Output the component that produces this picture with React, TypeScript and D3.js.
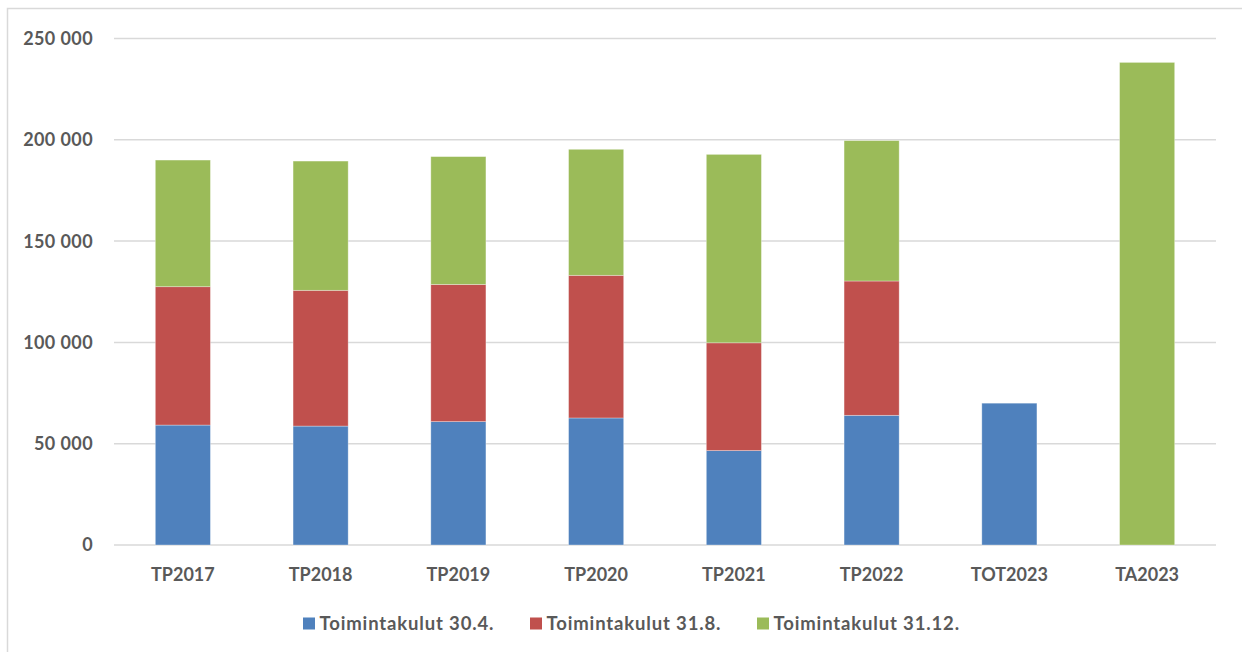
import React, { useEffect, useRef } from "react";
import * as d3 from "d3";

const categories = ["TP2017", "TP2018", "TP2019", "TP2020", "TP2021", "TP2022", "TOT2023", "TA2023"];
const kulut304 = [59200, 58700, 60900, 62700, 46600, 64000, 70000, 0];
const kulut318 = [68300, 67000, 67700, 70400, 53200, 66300, 0, 0];
const kulut3112 = [62500, 63800, 63100, 62200, 93000, 69300, 0, 238200];
const seriesNames = ["Toimintakulut 30.4.", "Toimintakulut 31.8.", "Toimintakulut 31.12."];
const seriesColors = ["#4f81bd", "#c0504d", "#9bbb59"];
const yTicks = [0, 50000, 100000, 150000, 200000, 250000];

const W = 1242;
const H = 652;
const FONT = "Lato, 'Open Sans', sans-serif";

const App: React.FC = () => {
  const svgRef = useRef<SVGSVGElement>(null);

  useEffect(() => {
    const svg = d3.select(svgRef.current);
    svg.selectAll("*").remove();

    const margin = { top: 38.5, right: 26, bottom: 107, left: 114 };

    // chart frame
    svg
      .append("rect")
      .attr("x", 7.5)
      .attr("y", 8.5)
      .attr("width", W + 20)
      .attr("height", H + 20)
      .attr("fill", "#fff")
      .attr("stroke", "#d9d9d9")
      .attr("stroke-width", 1.5);

    const x = d3
      .scaleBand()
      .domain(categories)
      .range([margin.left, W - margin.right])
      .paddingInner(0.6)
      .paddingOuter(0.3);

    const y = d3
      .scaleLinear()
      .domain([0, 250000])
      .range([H - margin.bottom, margin.top]);

    const fmt = (v: number) => d3.format(",")(v).replace(/,/g, " ");

    // gridlines
    svg
      .append("g")
      .selectAll("line")
      .data(yTicks)
      .join("line")
      .attr("x1", margin.left)
      .attr("x2", W - margin.right)
      .attr("y1", (d) => y(d))
      .attr("y2", (d) => y(d))
      .attr("stroke", "#d9d9d9")
      .attr("stroke-width", 1.5);

    // y labels
    svg
      .append("g")
      .selectAll("text")
      .data(yTicks)
      .join("text")
      .attr("x", 93)
      .attr("y", (d) => y(d))
      .attr("dy", "0.36em")
      .attr("text-anchor", "end")
      .attr("font-family", FONT)
      .attr("font-weight", "bold")
      .attr("font-size", 18)
      .attr("letter-spacing", 0.4)
      .attr("fill", "#595959")
      .text((d) => fmt(d));

    const rows = categories.map((c, i) => ({
      cat: c,
      a: kulut304[i],
      b: kulut318[i],
      c3: kulut3112[i],
    }));
    const stack = d3.stack<any>().keys(["a", "b", "c3"]);
    const stacked = stack(rows);

    svg
      .append("g")
      .selectAll("g")
      .data(stacked)
      .join("g")
      .attr("fill", (_, i) => seriesColors[i])
      .selectAll("rect")
      .data((s) => s.filter((d) => d[1] - d[0] > 0))
      .join("rect")
      .attr("x", (d: any) => x(d.data.cat)!)
      .attr("width", x.bandwidth())
      .attr("y", (d) => y(d[1]))
      .attr("height", (d) => y(d[0]) - y(d[1]))
      .attr("stroke", "#ffffff")
      .attr("stroke-opacity", 0.4)
      .attr("stroke-width", 0.8);

    // x labels
    svg
      .append("g")
      .selectAll("text")
      .data(categories)
      .join("text")
      .attr("x", (d) => x(d)! + x.bandwidth() / 2)
      .attr("y", 581)
      .attr("text-anchor", "middle")
      .attr("font-family", FONT)
      .attr("font-weight", "bold")
      .attr("font-size", 18)
      .attr("fill", "#595959")
      .text((d) => d);

    // legend
    const legendX = [303, 530, 757];
    const lg = svg
      .append("g")
      .selectAll("g")
      .data(seriesNames)
      .join("g")
      .attr("transform", (_, i) => `translate(${legendX[i]},623.5)`);
    lg.append("rect")
      .attr("x", 0)
      .attr("y", -6)
      .attr("width", 12)
      .attr("height", 12)
      .attr("fill", (_, i) => seriesColors[i]);
    lg.append("text")
      .attr("x", 16.5)
      .attr("y", 0)
      .attr("dy", "0.36em")
      .attr("font-family", FONT)
      .attr("font-weight", "bold")
      .attr("font-size", 18.5)
      .attr("letter-spacing", 0.85)
      .attr("fill", "#595959")
      .text((d) => d);
  }, []);

  return (
    <svg
      ref={svgRef}
      width={W}
      height={H}
      style={{ position: "absolute", left: 0, top: 0, display: "block", background: "#fff" }}
    ></svg>
  );
};

export default App;
